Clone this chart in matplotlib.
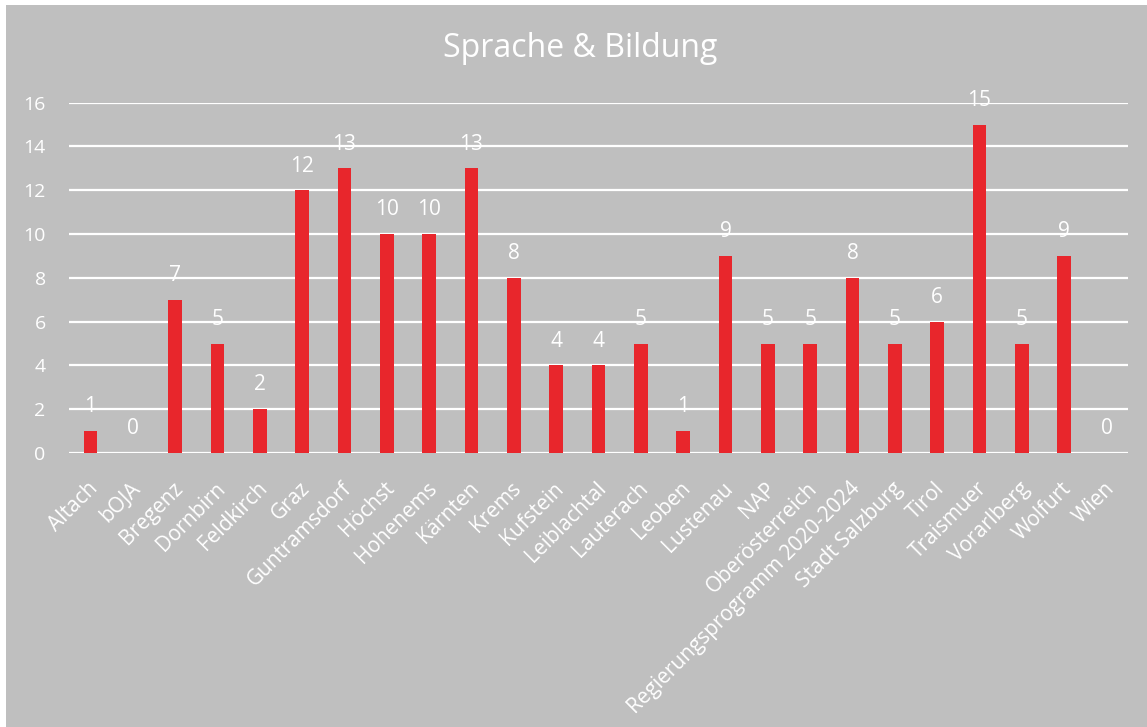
import matplotlib
matplotlib.use("Agg")
import matplotlib.pyplot as plt
from matplotlib.patches import Rectangle
import matplotlib.transforms as mtransforms

categories = ["Altach", "bOJA", "Bregenz", "Dornbirn", "Feldkirch", "Graz", "Guntramsdorf",
              "Höchst", "Hohenems", "Kärnten", "Krems", "Kufstein", "Leiblachtal", "Lauterach",
              "Leoben", "Lustenau", "NAP", "Oberösterreich", "Regierungsprogramm 2020-2024",
              "Stadt Salzburg", "Tirol", "Traismuer", "Vorarlberg", "Wolfurt", "Wien"]
values = [1, 0, 7, 5, 2, 12, 13, 10, 10, 13, 8, 4, 4, 5, 1, 9, 5, 5, 8, 5, 6, 15, 5, 9, 0]
yticks = [0, 2, 4, 6, 8, 10, 12, 14, 16]
title = "Sprache & Bildung"

GREY = "#BFBFBF"
RED = "#E8262C"
FONT = "Open Sans"

W, H = 1147, 727
fig = plt.figure(figsize=(W / 100, H / 100), dpi=100, facecolor="white")
fig.patches.append(Rectangle((6 / W, 0), 1 - 6 / W, 1 - 5 / H, transform=fig.transFigure,
                             facecolor=GREY, edgecolor="none", zorder=-10))

L, R, B, T = 69.3, 1127.7, 453.0, 102.7
ax = fig.add_axes([L / W, (H - B) / H, (R - L) / W, (B - T) / H])
ax.set_facecolor("none")
x = list(range(len(categories)))
ax.bar(x, values, width=0.32, color=RED, zorder=3)
ax.set_xlim(-0.5, len(categories) - 0.5)
ax.set_ylim(0, 16)
ax.set_yticks(yticks)
ax.set_yticklabels([str(t) for t in yticks], fontsize=14, color="white", family=FONT)
ax.yaxis.grid(True, color="white", linewidth=1.6, zorder=1)
ax.set_axisbelow(True)
ax.tick_params(axis="both", length=0)
ax.tick_params(axis="y", pad=17)
for s in ax.spines.values():
    s.set_visible(False)

ax.set_xticks(x)
ax.set_xticklabels(categories, rotation=45, ha="right", va="top", rotation_mode="anchor",
                   fontsize=15, color="white", family=FONT)
ax.tick_params(axis="x", pad=0)
offset = mtransforms.ScaledTranslation(-3 / 100, -25 / 100, fig.dpi_scale_trans)
for lab in ax.get_xticklabels():
    lab.set_transform(lab.get_transform() + offset)

for xi, v in zip(x, values):
    ax.annotate(str(v), (xi, v), xytext=(0, 13.5), textcoords="offset points",
                ha="center", va="baseline", fontsize=15, color="white", family=FONT)

fig.text(580.5 / W, 1 - 57.3 / H, title, ha="center", va="baseline", fontsize=23,
         color="white", family=FONT)

fig.savefig("out.png", dpi=100, facecolor=fig.get_facecolor())
